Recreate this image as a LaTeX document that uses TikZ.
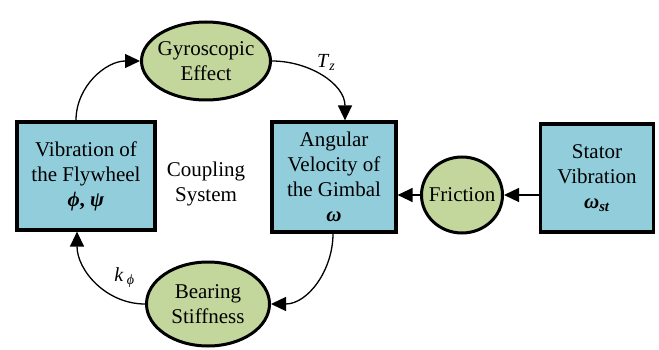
\documentclass[tikz,border=0pt]{standalone}
\usepackage{fontspec}
\setmainfont{Liberation Serif}
\usetikzlibrary{arrows.meta,shapes.geometric}

\definecolor{boxblue}{RGB}{146,205,220}
\definecolor{roundgreen}{RGB}{195,214,155}

\begin{document}
\begin{tikzpicture}[x=1pt,y=1pt,->,>={Triangle[length=15pt,width=14pt]},line width=1.3pt,
        box node/.style={rectangle,draw,line width=3.2pt,fill=boxblue,align=center,inner sep=0pt,font=\fontsize{21}{25}\selectfont},
        round node/.style={ellipse,draw,line width=3pt,fill=roundgreen,align=center,inner sep=-8pt,font=\fontsize{21}{25}\selectfont}]

        \useasboundingbox (0,0) rectangle (659,-350);

        \node[box node,minimum width=138,minimum height=108] (fly) at (86,-176) {Vibration of\\the Flywheel\\\textbf{\textit{ϕ}, \textit{ψ}}};
        \node[box node,minimum width=124,minimum height=110] (ang) at (334,-177) {Angular\\Velocity of\\the Gimbal\\\textbf{\textit{ω}}};
        \node[box node,minimum width=113,minimum height=108] (stator) at (597,-178) {Stator\\Vibration\\\textbf{\textit{ω}\textsubscript{\textit{st}}}};
        \node[round node,minimum width=129,minimum height=78] (gyro) at (206,-61) {Gyroscopic\\Effect};
        \node[round node,minimum width=123,minimum height=84] (bearing) at (208,-304) {Bearing\\Stiffness};
        \node[round node,minimum width=81,minimum height=76] (friction) at (462,-195) {Friction};
        \node[align=center,font=\fontsize{21}{25}\selectfont] (coupling) at (206,-184) {Coupling\\System};

        \path[every node/.style={font=\fontsize{20}{22}\selectfont}]
        ([xshift=-10pt]fly.north) edge[out=90,in=180] (gyro.west)
        (gyro.east) edge[out=0,in=90] node[pos=0.42,anchor=south west,inner sep=1pt] {\textit{T}\textsubscript{\textit{z}}} ([xshift=11pt]ang.north)
        ([xshift=-1pt]ang.south) edge[out=-90,in=0] (bearing.east)
        (bearing.west) edge[out=180,in=-90] node[pos=0.35,anchor=south west,inner sep=5pt] {\textit{k}\,\textsubscript{\textit{ϕ}}} ([xshift=-9pt]fly.south)
        (stator.west |- friction.east) edge (friction.east)
        (friction.west) edge (ang.east |- friction.west);
      \end{tikzpicture}
\end{document}
